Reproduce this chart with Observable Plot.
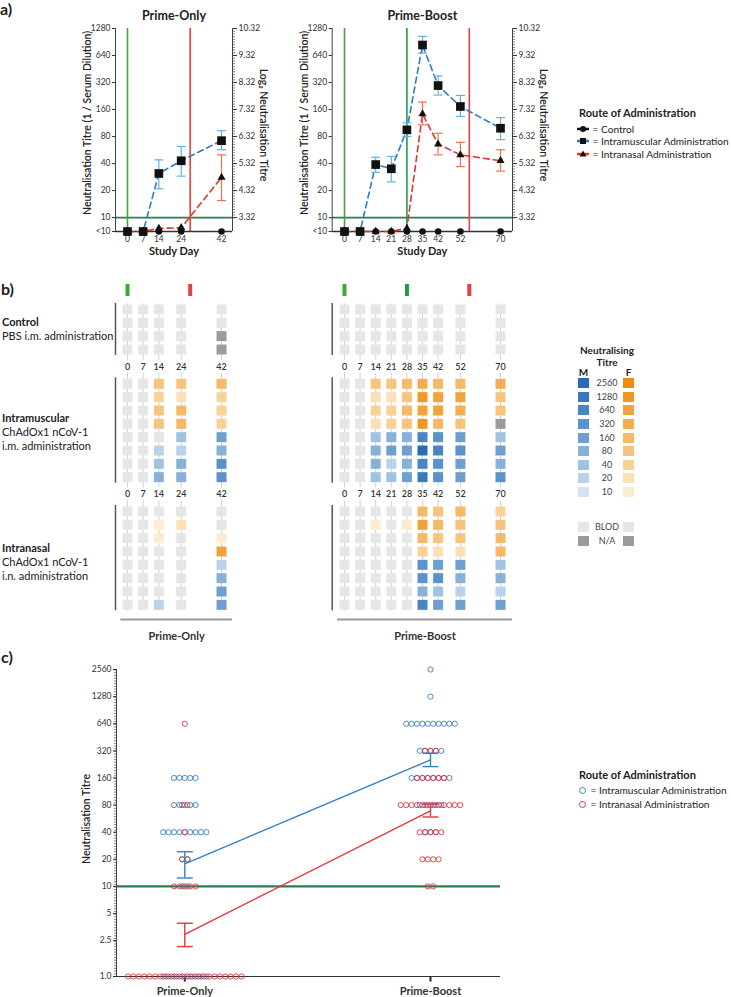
<!DOCTYPE html>
<html><head><meta charset="utf-8">
<script src="https://cdn.jsdelivr.net/npm/d3@7"></script>
<script src="https://cdn.jsdelivr.net/npm/@observablehq/plot@0.6"></script>
<style>
body{margin:0;background:#fff;}
#fig{position:relative;width:731px;height:997px;overflow:hidden;font-family:Lato,"Open Sans",sans-serif;color:#222;}
.lbl{white-space:nowrap;}
</style></head><body><div id="fig"></div>
<script>
// ---------------- DATA ----------------
const BELOW = "<10";          // below the limit of detection
const BELOW_POS = 7;          // where "<10" sits on the log axis

// panel a : Prime-Only
const primeOnlyDays = [0, 7, 14, 24, 42];
const primeOnlyControl = [BELOW, BELOW, BELOW, BELOW, BELOW];
const primeOnlyIM = [BELOW, BELOW, 31, 43, 72];
const primeOnlyIMLow = [null, null, 21, 29, 57];
const primeOnlyIMHigh = [null, null, 44, 62, 93];
const primeOnlyIN = [BELOW, BELOW, 7.6, 7.7, 28];
const primeOnlyINLow = [null, null, null, null, 15.5];
const primeOnlyINHigh = [null, null, null, null, 50];
const primeOnlyEvents = [{day: 0, kind: "prime"}, {day: 28, kind: "end"}];

// panel a : Prime-Boost
const primeBoostDays = [0, 7, 14, 21, 28, 35, 42, 52, 70];
const primeBoostControl = [BELOW, BELOW, BELOW, BELOW, BELOW, BELOW, BELOW, BELOW, BELOW];
const primeBoostIM = [BELOW, BELOW, 39, 35, 95, 838, 296, 173, 99];
const primeBoostIMLow = [null, null, 32, 25, 80, 680, 232, 134, 74];
const primeBoostIMHigh = [null, null, 47, 48, 114, 1045, 378, 230, 130];
const primeBoostIN = [BELOW, BELOW, BELOW, BELOW, 7.6, 143, 66, 50, 43];
const primeBoostINLow = [null, null, null, null, null, 108, 50, 37, 33];
const primeBoostINHigh = [null, null, null, null, null, 194, 87, 69, 57];
const primeBoostEvents = [{day: 0, kind: "prime"}, {day: 28, kind: "boost"}, {day: 56, kind: "end"}];

const titreTicksA = [10, 20, 40, 80, 160, 320, 640, 1280];

// panel b : heat-map tiles ("BLOD" below detection, "N/A" missing)
const tileRowSex = ["F", "F", "F", "F", "M", "M", "M", "M"];
const B = "BLOD", NA = "N/A";
const primeOnlyControlTiles = [
  [B, B, B, B, B],
  [B, B, B, B, B],
  [B, B, B, B, NA],
  [B, B, B, B, NA]
];
const primeOnlyIMTiles = [
  [B, B, 80, 80, 160],
  [B, B, 40, 20, 40],
  [B, B, 80, 160, 40],
  [B, B, 80, 160, 40],
  [B, B, B, 40, 160],
  [B, B, 20, 20, 80],
  [B, B, 40, 80, 320],
  [B, B, 80, 80, 320]
];
const primeOnlyINTiles = [
  [B, B, B, B, B],
  [B, B, 10, 20, B],
  [B, B, 10, B, 10],
  [B, B, B, B, 640],
  [B, B, B, B, 20],
  [B, B, B, B, 80],
  [B, B, B, B, 160],
  [B, B, 20, B, 160]
];
const primeBoostControlTiles = [
  [B, B, B, B, B, B, B, B, B],
  [B, B, B, B, B, B, B, B, B],
  [B, B, B, B, B, B, B, B, B],
  [B, B, B, B, B, B, B, B, B]
];
const primeBoostIMTiles = [
  [B, B, 80, 80, 160, 320, 160, 160, 320],
  [B, B, 20, 20, 80, 1280, 640, 640, 80],
  [B, B, 40, 40, 160, 640, 640, 320, 80],
  [B, B, 20, 40, 80, 1280, 160, 80, NA],
  [B, B, 40, 80, 80, 640, 320, 160, 40],
  [B, B, 80, 160, 160, 2560, 640, 320, 160],
  [B, B, 80, 20, 80, 640, 320, 160, 80],
  [B, B, 40, 40, 160, 1280, 320, 160, 320]
];
const primeBoostINTiles = [
  [B, B, B, B, B, 160, 80, 160, 40],
  [B, B, 10, B, 10, 640, 160, 80, 80],
  [B, B, B, B, B, 160, 80, 80, 160],
  [B, B, B, B, B, 40, 20, 20, 160],
  [B, B, B, B, B, 320, 160, 160, 40],
  [B, B, B, B, B, 320, 320, 80, 80],
  [B, B, B, B, B, 80, 40, 20, 20],
  [B, B, B, B, B, 640, 160, 160, 160]
];
const titreLevels = [2560, 1280, 640, 320, 160, 80, 40, 20, 10];
const maleColors   = ["#2a6cb3", "#3878be", "#4984c5", "#5b92cb", "#6e9fd1", "#88b1da", "#a1c3e3", "#bad3ec", "#d3e3f2"];
const femaleColors = ["#ef8c0e", "#f19823", "#f2a33a", "#f4ae50", "#f5b967", "#f7c47e", "#f9d298", "#fbdfb5", "#fdebd2"];
const blodColor = "#e6e6e6", naColor = "#9b9b9b";

// panel c
const cGroups = ["Prime-Only", "Prime-Boost"];
const cTitres = [1, 10, 20, 40, 80, 160, 320, 640, 1280, 2560];
const primeOnlyIMCounts  = [9, 2, 2, 9, 5, 5, 0, 0, 0, 0];
const primeOnlyINCounts  = [22, 5, 2, 1, 2, 0, 0, 1, 0, 0];
const primeBoostIMCounts = [0, 0, 0, 3, 5, 8, 5, 10, 1, 1];
const primeBoostINCounts = [0, 2, 4, 5, 12, 6, 3, 0, 0, 0];
const cIMMean = [17.8, 254], cIMLow = [12.4, 214], cIMHigh = [24.3, 300];
const cINMean = [2.94, 68.9], cINLow = [2.15, 59], cINHigh = [3.9, 81.7];
const cTicks = [1, 2.5, 5, 10, 20, 40, 80, 160, 320, 640, 1280, 2560];

// ---------------- STYLE ----------------
const FONT = "Lato, 'Open Sans', sans-serif";
const C = {green: "#3aaa35", boost: "#1f9a48", red: "#e4403f", hline: "#2e7d4f",
  imLine: "#2f7bc4", imErr: "#62b2e4", inLine: "#e5352b", inErr: "#f2704f",
  cBlue: "#3b7fc6", cRed: "#e2393b"};
const eventColor = {prime: C.green, boost: C.boost, end: C.red};

const fig = document.getElementById("fig");
function place(node, left, top) {
  node.style.position = "absolute"; node.style.left = left + "px"; node.style.top = top + "px";
  fig.appendChild(node); return node;
}
function html(str, left, top, css = "") {
  const d = document.createElement("div"); d.className = "lbl"; d.style.cssText = css; d.innerHTML = str;
  return place(d, left, top);
}
const capSymbol = (w) => ({draw(ctx) { ctx.moveTo(-w, 0); ctx.lineTo(w, 0); }});
const downTick = {draw(ctx) { ctx.moveTo(0, 0); ctx.lineTo(0, 5); }};
const tileSymbol = {draw(ctx) { ctx.rect(-5, -5, 10, 10); }};
const posOf = v => v === BELOW ? BELOW_POS : v;
const rightMinor = d3.range(0, 71).map(k => 10 * 2 ** (k / 10));

// ---------------- PANEL A ----------------
function panelA(o) {
  const rows = o.days.map((day, i) => ({day,
    control: posOf(o.control[i]), im: posOf(o.im[i]), imLo: o.imLo[i], imHi: o.imHi[i],
    inn: posOf(o.inn[i]), innLo: o.innLo[i], innHi: o.innHi[i]}));
  const imErr = rows.filter(d => d.imLo != null);
  const inErr = rows.filter(d => d.innLo != null);
  return Plot.plot({
    width: o.width, height: 262, marginLeft: o.marginLeft, marginRight: o.marginRight, marginTop: 28, marginBottom: 31,
    style: {background: "transparent", overflow: "visible", fontFamily: FONT, fontSize: "8.5px", color: "#333"},
    x: {domain: o.xDomain},
    y: {type: "log", base: 2, domain: [BELOW_POS, 1280]},
    marks: [
      Plot.ruleY([10], {stroke: C.hline, strokeWidth: 1.6}),
      Plot.ruleX(o.events, {x: "day", stroke: d => eventColor[d.kind], strokeWidth: 1.6}),
      Plot.ruleX([o.xDomain[0], o.xDomain[1]], {stroke: "#444", strokeWidth: 1}),
      Plot.ruleY([BELOW_POS], {stroke: "#333", strokeWidth: 1.5}),
      Plot.axisX({ticks: o.days, tickSize: 0, tickPadding: 4, label: null}),
      Plot.axisY({anchor: "left", ticks: [BELOW_POS, ...titreTicksA], tickFormat: d => d === BELOW_POS ? "<10" : String(d), tickSize: 3, tickPadding: 2, label: null}),
      Plot.axisY({anchor: "right", ticks: titreTicksA, tickFormat: d => Math.log2(d).toFixed(2), tickSize: 4, tickPadding: 2, label: null}),
      Plot.axisY({anchor: "right", ticks: rightMinor, tickFormat: () => "", tickSize: 2, strokeWidth: 0.6, label: null}),
      Plot.line(rows, {x: "day", y: "im", stroke: C.imLine, strokeWidth: 1.6, strokeDasharray: "6,4"}),
      Plot.line(rows, {x: "day", y: "inn", stroke: C.inLine, strokeWidth: 1.6, strokeDasharray: "6,4"}),
      Plot.ruleX(imErr, {x: "day", y1: "imLo", y2: "imHi", stroke: C.imErr, strokeWidth: 1.2}),
      Plot.dot(imErr, {x: "day", y: "imLo", symbol: capSymbol(4.5), stroke: C.imErr, strokeWidth: 1.2}),
      Plot.dot(imErr, {x: "day", y: "imHi", symbol: capSymbol(4.5), stroke: C.imErr, strokeWidth: 1.2}),
      Plot.ruleX(inErr, {x: "day", y1: "innLo", y2: "innHi", stroke: C.inErr, strokeWidth: 1.2}),
      Plot.dot(inErr, {x: "day", y: "innLo", symbol: capSymbol(4.5), stroke: C.inErr, strokeWidth: 1.2}),
      Plot.dot(inErr, {x: "day", y: "innHi", symbol: capSymbol(4.5), stroke: C.inErr, strokeWidth: 1.2}),
      Plot.dot(rows, {x: "day", y: "control", r: 3.3, fill: "#111", symbol: "circle"}),
      Plot.dot(rows, {x: "day", y: "inn", r: 3, fill: "#111", symbol: "triangle"}),
      Plot.dot(rows, {x: "day", y: "im", r: 4.9, fill: "#111", symbol: "square"}),
      Plot.text([o.title], {text: d => d, frameAnchor: "top", lineAnchor: "middle", dy: -13, fontSize: 12.5, fontWeight: "bold", fill: "#222"}),
      Plot.text(["Study Day"], {text: d => d, frameAnchor: "bottom", lineAnchor: "middle", dy: 20, fontSize: 11, fontWeight: "bold", fill: "#222"}),
      Plot.text(["Neutralisation Titre (1 / Serum Dilution)"], {text: d => d, frameAnchor: "left", textAnchor: "middle", lineAnchor: "middle", dx: -28, dy: -7, rotate: -90, fontSize: 10.5, fontWeight: 600, fill: "#222"}),
      Plot.text(["Log\u2082 Neutralisation Titre"], {text: d => d, frameAnchor: "right", textAnchor: "middle", lineAnchor: "middle", dx: 31, dy: -5, rotate: 90, fontSize: 10.5, fontWeight: 600, fill: "#222"})
    ]
  });
}

place(panelA({days: primeOnlyDays, control: primeOnlyControl, im: primeOnlyIM, imLo: primeOnlyIMLow, imHi: primeOnlyIMHigh,
  inn: primeOnlyIN, innLo: primeOnlyINLow, innHi: primeOnlyINHigh, events: primeOnlyEvents, title: "Prime-Only",
  xDomain: [-5.36, 46.9], width: 300, marginLeft: 115, marginRight: 68}), 0, 0);
place(panelA({days: primeBoostDays, control: primeBoostControl, im: primeBoostIM, imLo: primeBoostIMLow, imHi: primeBoostIMHigh,
  inn: primeBoostIN, innLo: primeBoostINLow, innHi: primeBoostINHigh, events: primeBoostEvents, title: "Prime-Boost",
  xDomain: [-5.52, 75.38], width: 270, marginLeft: 41.7, marginRight: 48}), 290, 0);

// ---------------- PANEL B ----------------
function tileColor(v, sex) {
  if (v === B) return blodColor;
  if (v === NA) return naColor;
  const i = titreLevels.indexOf(v);
  return (sex === "M" ? maleColors : femaleColors)[i];
}
function panelB(o) {
  const GAP = 2.575;
  const tiles = [], cols = [], seps = [], labelRows = [];
  let prevEnd = null;
  o.groups.forEach((g, gi) => {
    const start = gi === 0 ? 0 : prevEnd + GAP;
    if (gi > 0) labelRows.push((prevEnd + start) / 2);
    const end = start + g.length - 1;
    g.forEach((row, r) => row.forEach((v, j) => tiles.push({day: o.days[j], y: start + r,
      color: tileColor(v, gi === 0 ? null : tileRowSex[r])})));
    const top = gi === 0 ? 0.42 : 0.8, bot = gi === o.groups.length - 1 ? 0.45 : 0.8;
    o.days.forEach(day => cols.push({day, y1: start - top, y2: end + bot}));
    seps.push({y1: start - 0.45, y2: end + 0.45});
    prevEnd = end;
  });
  const dayLabels = labelRows.flatMap(y => o.days.map(day => ({day, y})));
  const x0 = o.xDomain[0], x1 = o.xDomain[1];
  return Plot.plot({
    width: o.width, height: 380, marginLeft: o.marginLeft, marginRight: o.marginRight, marginTop: 5.667, marginBottom: 1,
    style: {background: "transparent", overflow: "visible", fontFamily: FONT, fontSize: "9px", color: "#333"},
    x: {domain: o.xDomain, axis: null},
    y: {domain: [-2.5, 25.5], reverse: true, axis: null},
    marks: [
      Plot.ruleX(o.events, {x: "day", y1: -1.875, y2: -0.975, stroke: d => eventColor[d.kind], strokeWidth: 4}),
      Plot.ruleX(cols, {x: "day", y1: "y1", y2: "y2", stroke: "#d2d2d2", strokeWidth: 1}),
      Plot.dot(tiles, {x: "day", y: "y", symbol: tileSymbol, fill: "color", stroke: "none"}),
      Plot.ruleX(seps, {x: () => x0, y1: "y1", y2: "y2", stroke: "#555", strokeWidth: 1.5}),
      Plot.text(dayLabels, {x: "day", y: "y", text: d => String(d.day), fontSize: 9, fontWeight: 600, fill: "#333"}),
      Plot.ruleY([prevEnd + 1.1], {x1: x0 + 2.4, x2: x1, stroke: "#999", strokeWidth: 2}),
      Plot.text([o.label], {text: d => d, x: () => (x0 + 2.4 + x1) / 2, y: () => prevEnd + 2.35, fontSize: 11, fontWeight: "bold", fill: "#333"})
    ]
  });
}
place(panelB({days: primeOnlyDays, groups: [primeOnlyControlTiles, primeOnlyIMTiles, primeOnlyINTiles], events: primeOnlyEvents,
  label: "Prime-Only", xDomain: [-5.36, 46.9], width: 300, marginLeft: 115, marginRight: 68}), 0, 270);
place(panelB({days: primeBoostDays, groups: [primeBoostControlTiles, primeBoostIMTiles, primeBoostINTiles], events: primeBoostEvents,
  label: "Prime-Boost", xDomain: [-5.52, 75.38], width: 270, marginLeft: 41.7, marginRight: 48}), 290, 270);

// ---------------- PANEL C ----------------
const cDomain = [-0.278, 1.285];
const cPxPerUnit = (560 - 116 - 60) / (cDomain[1] - cDomain[0]);
const cSpacing = 5.4 / cPxPerUnit;
function swarm(counts, gi) {
  const out = [];
  counts.forEach((n, k) => { for (let j = 0; j < n; j++) out.push({x: gi + (j - (n - 1) / 2) * cSpacing, titre: cTitres[k]}); });
  return out;
}
const blueDots = [...swarm(primeOnlyIMCounts, 0), ...swarm(primeBoostIMCounts, 1)];
const redDots = [...swarm(primeOnlyINCounts, 0), ...swarm(primeBoostINCounts, 1)];
const imSummary = cGroups.map((g, i) => ({x: i, mean: cIMMean[i], lo: cIMLow[i], hi: cIMHigh[i]}));
const inSummary = cGroups.map((g, i) => ({x: i, mean: cINMean[i], lo: cINLow[i], hi: cINHigh[i]}));
const cMinor = d3.range(0, 114).map(k => 2 ** (k / 10));
function summaryMarks(data, color) {
  return [
    Plot.line(data, {x: "x", y: "mean", stroke: color, strokeWidth: 1.4}),
    Plot.ruleX(data, {x: "x", y1: "lo", y2: "hi", stroke: color, strokeWidth: 1.4}),
    Plot.dot(data, {x: "x", y: "lo", symbol: capSymbol(8), stroke: color, strokeWidth: 1.4}),
    Plot.dot(data, {x: "x", y: "hi", symbol: capSymbol(8), stroke: color, strokeWidth: 1.4})
  ];
}
place(Plot.plot({
  width: 560, height: 347, marginLeft: 116, marginRight: 60, marginTop: 19, marginBottom: 21,
  style: {background: "transparent", overflow: "visible", fontFamily: FONT, fontSize: "8.5px", color: "#333"},
  x: {domain: cDomain},
  y: {type: "log", base: 2, domain: [1, 2560]},
  marks: [
    Plot.ruleY([10], {stroke: C.hline, strokeWidth: 2.4}),
    Plot.ruleY([1], {stroke: "#333", strokeWidth: 1.2}),
    Plot.ruleX([cDomain[0]], {stroke: "#444", strokeWidth: 1}),
    Plot.axisY({anchor: "left", ticks: cTicks, tickFormat: d => d === 1 ? "1.0" : String(d), tickSize: 3, tickPadding: 2, label: null}),
    Plot.axisY({anchor: "left", ticks: cMinor, tickFormat: () => "", tickSize: 2, strokeWidth: 0.6, label: null}),
    Plot.axisX({ticks: [0, 1], tickFormat: i => cGroups[i], tickSize: 0, tickPadding: 11, fontSize: 11, fontWeight: "bold", fill: "#333", label: null}),
    Plot.dot([0, 1], {x: d => d, y: () => 1, symbol: downTick, stroke: "#222", strokeWidth: 2}),
    Plot.dot(blueDots, {x: "x", y: "titre", r: 2.6, stroke: C.cBlue, strokeWidth: 0.9, fill: "none"}),
    Plot.dot(redDots, {x: "x", y: "titre", r: 2.6, stroke: C.cRed, strokeWidth: 0.9, fill: "none"}),
    ...summaryMarks(imSummary, C.cBlue),
    ...summaryMarks(inSummary, C.cRed),
    Plot.text(["Neutralisation Titre"], {text: d => d, frameAnchor: "left", textAnchor: "middle", lineAnchor: "middle", dx: -30, dy: -4, rotate: -90, fontSize: 10.5, fontWeight: 600, fill: "#222"})
  ]
}), 0, 650);

// ---------------- TEXT & LEGENDS ----------------
const PL = "font-weight:700;font-size:16px;line-height:18px;";
html("a)", 0, 0, PL);
html("b)", 1, 280, PL);
html("c)", 1, 648, PL);

// legend a
const legA = "font-size:10.1px;line-height:12px;";
html("Route of Administration", 579, 106, "font-size:11px;line-height:13px;font-weight:700;");
function legSym(color, shape) {
  const m = shape === "circle" ? '<circle cx="6" cy="5" r="3" fill="#111"/>'
    : shape === "square" ? '<rect x="3" y="2" width="6" height="6" fill="#111"/>'
    : '<path d="M6,1.5 L9.5,7.5 L2.5,7.5Z" fill="#111"/>';
  return `<svg width="12" height="10" style="vertical-align:-1px;margin-right:1px"><line x1="0" x2="12" y1="5" y2="5" stroke="${color}" stroke-width="2.5"/>${m}</svg>`;
}
html(legSym("#111", "circle") + " = Control", 577, 122.5, legA);
html(legSym(C.imLine, "square") + " = Intramuscular Administration", 577, 135, legA);
html(legSym(C.inLine, "triangle") + " = Intranasal Administration", 577, 147.5, legA);

// panel b group labels
const gl = "font-size:11px;line-height:14px;";
html("<b>Control</b><br>PBS i.m. administration", 2, 315, gl);
html("<b>Intramuscular</b><br>ChAdOx1 nCoV-1<br>i.m. administration", 2, 411, gl);
html("<b>Intranasal</b><br>ChAdOx1 nCoV-1<br>i.n. administration", 2, 541, gl);

// legend b
html("Neutralising<br>Titre", 572, 345, "font-size:10px;line-height:11.5px;font-weight:700;text-align:center;width:70px;");
html("M", 578, 366, "font-size:10px;line-height:12px;font-weight:700;width:11px;text-align:center;");
html("F", 623, 366, "font-size:10px;line-height:12px;font-weight:700;width:11px;text-align:center;");
titreLevels.forEach((t, i) => {
  const yc = 383.3 + i * 13.55;
  html("", 578, yc - 5, `width:11px;height:10px;background:${maleColors[i]};`);
  html("", 623, yc - 5, `width:11px;height:10px;background:${femaleColors[i]};`);
  html(String(t), 590, yc - 6, "font-size:9px;line-height:12px;color:#444;width:34px;text-align:center;");
});
[["BLOD", blodColor, 527], ["N/A", naColor, 540.5]].forEach(([t, col, yc]) => {
  html("", 578, yc - 5, `width:11px;height:10px;background:${col};`);
  html("", 623, yc - 5, `width:11px;height:10px;background:${col};`);
  html(t, 590, yc - 6, "font-size:9px;line-height:12px;color:#444;width:34px;text-align:center;");
});

// legend c
html("Route of Administration", 579, 768, "font-size:11px;line-height:13px;font-weight:700;");
const circ = c => `<svg width="9" height="9" style="vertical-align:-1px;margin-right:1px"><circle cx="4.5" cy="4.5" r="3" fill="none" stroke="${c}" stroke-width="1"/></svg>`;
html(circ(C.cBlue) + " = Intramuscular Administration", 578, 784, legA);
html(circ(C.cRed) + " = Intranasal Administration", 578, 798, legA);
</script></body></html>
